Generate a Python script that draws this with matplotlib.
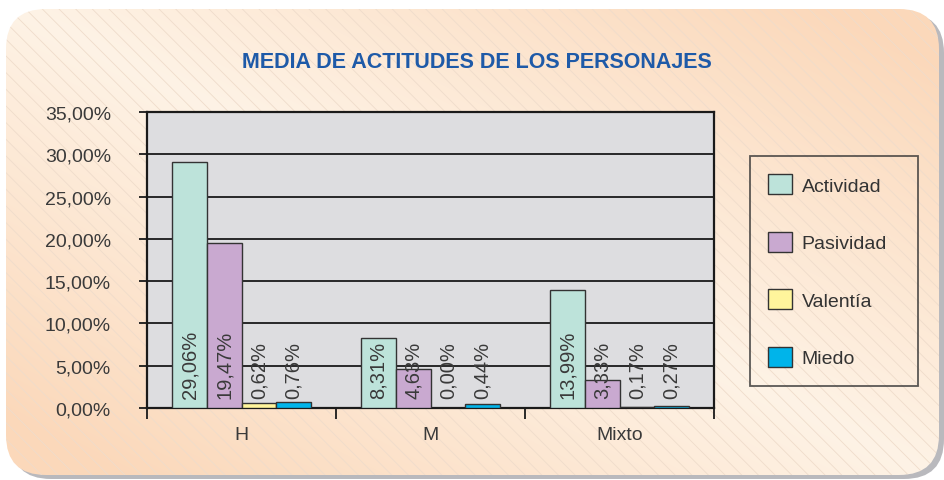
import numpy as np
import matplotlib
matplotlib.use("Agg")
import matplotlib.pyplot as plt
from matplotlib.patches import FancyBboxPatch

plt.rcParams['font.family'] = ['Liberation Sans', 'DejaVu Sans']
plt.rcParams['hatch.linewidth'] = 0.6

categories = ["H", "M", "Mixto"]
series = ["Actividad", "Pasividad", "Valentía", "Miedo"]
actividad = [29.06, 8.31, 13.99]
pasividad = [19.47, 4.63, 3.33]
valentia = [0.62, 0.00, 0.17]
miedo = [0.76, 0.44, 0.27]
values = [actividad, pasividad, valentia, miedo]
colors = ["#bde3da", "#c9a9d0", "#fff59c", "#00b4ea"]
yticks = [0, 5, 10, 15, 20, 25, 30, 35]
title = "MEDIA DE ACTITUDES DE LOS PERSONAJES"

W, H = 944, 481
fig = plt.figure(figsize=(W / 100, H / 100), dpi=100)
fig.patch.set_facecolor("white")

# background panel
bg = fig.add_axes([0, 0, 1, 1])
bg.set_xlim(0, W)
bg.set_ylim(H, 0)
bg.axis("off")
shadow = FancyBboxPatch((11, 14), 933, 466,
                        boxstyle="round,pad=0,rounding_size=40",
                        facecolor="#b9b9bd", edgecolor="none", zorder=0)
bg.add_patch(shadow)
panel = FancyBboxPatch((6, 10), 933, 466,
                       boxstyle="round,pad=0,rounding_size=40",
                       facecolor="none", edgecolor="none", zorder=1)
bg.add_patch(panel)
yy, xx = np.mgrid[0:H, 0:W]
d = np.abs(xx / W - yy / H)
t = np.clip(d * 1.15, 0, 1)[..., None]
light = np.array([254, 243, 230]) / 255
dark = np.array([251, 216, 186]) / 255
img = light * (1 - t) + dark * t
im = bg.imshow(img, extent=(0, W, H, 0), zorder=1, aspect="auto")
im.set_clip_path(panel)
hatchp = FancyBboxPatch((6, 10), 933, 466,
                        boxstyle="round,pad=0,rounding_size=40",
                        facecolor="none", edgecolor="#efdccb", linewidth=0,
                        hatch="\\\\", zorder=2)
bg.add_patch(hatchp)
bg.text(477, 62, title, ha="center", va="center", fontsize=15.5,
        fontweight="bold", color="#1e5aa8")

# main chart
L, R, T, B = 147, 714, 113, 409
ax = fig.add_axes([L / W, (H - B) / H, (R - L) / W, (B - T) / H])
ax.set_facecolor("#dddde0")
x = np.arange(len(categories))
w = 0.183
bars = []
for i, (vals, c) in enumerate(zip(values, colors)):
    pos = x + (i - 1.5) * w
    b = ax.bar(pos, vals, width=w, color=c, edgecolor="#333333",
               linewidth=1.0, zorder=3, label=series[i])
    bars.append(b)
    for p, v in zip(pos, vals):
        ax.text(p, 1.2, f"{v:.2f}".replace(".", ",") + "%", rotation=90,
                ha="center", va="bottom", fontsize=14.5, color="#3a3a3a",
                zorder=4)

ax.set_xlim(-0.5, 2.5)
ax.set_ylim(0, 35)
ax.set_yticks(yticks)
ax.set_yticklabels([f"{v:.2f}".replace(".", ",") + "%" for v in yticks],
                   fontsize=14, color="#3a3a3a")
ax.yaxis.grid(True, color="#1a1a1a", linewidth=1.3, zorder=1)
ax.set_axisbelow(True)
ax.tick_params(axis="y", direction="out", length=6, width=1.3, pad=20,
               color="#1a1a1a")
ax.set_xticks([-0.5, 0.5, 1.5, 2.5])
ax.set_xticklabels([])
ax.tick_params(axis="x", which="major", direction="out", length=8, width=1.3,
               color="#1a1a1a")
ax.set_xticks(x, minor=True)
ax.set_xticklabels(categories, minor=True, fontsize=14, color="#3a3a3a")
ax.tick_params(axis="x", which="minor", length=0, pad=13)
for s in ax.spines.values():
    s.set_color("#1a1a1a")
    s.set_linewidth(1.6)

leg = fig.legend(handles=bars, labels=series, loc="upper left",
                 bbox_to_anchor=(750 / W, (H - 389) / H, 168 / W, 232 / H),
                 mode="expand", frameon=True,
                 fontsize=14, labelspacing=1.9, handlelength=1.2,
                 handleheight=1.2, handletextpad=0.5, borderpad=0.95,
                 borderaxespad=0, fancybox=False)
fr = leg.get_frame()
fr.set_facecolor("none")
fr.set_edgecolor("#333333")
fr.set_linewidth(1.3)
for txt in leg.get_texts():
    txt.set_color("#333333")

fig.savefig("out.png", dpi=100, facecolor="white")
